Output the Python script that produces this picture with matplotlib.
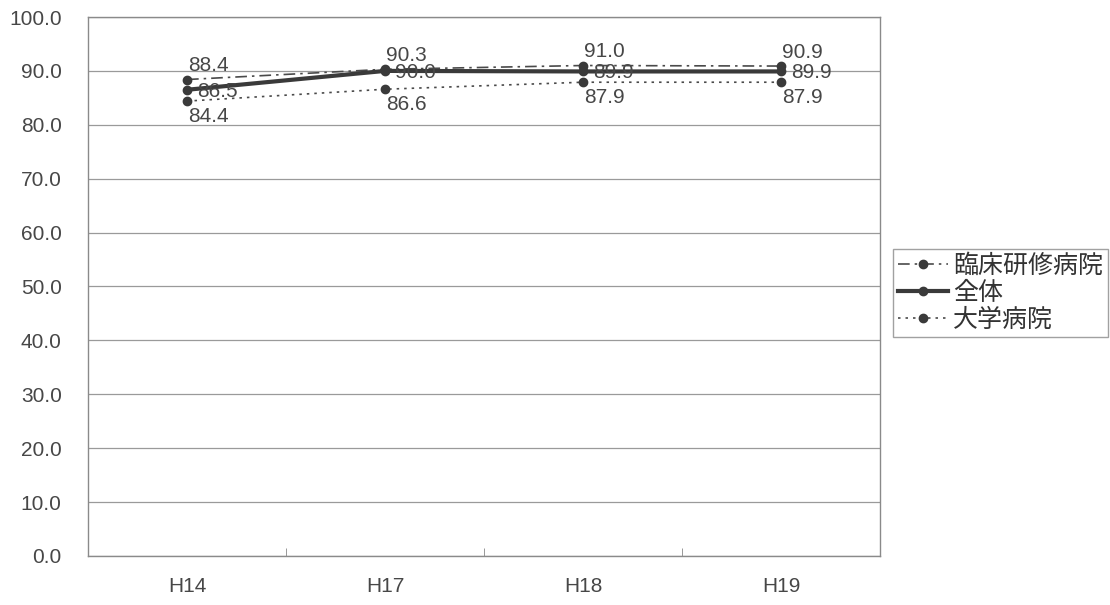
import matplotlib
matplotlib.use("Agg")
import matplotlib.pyplot as plt

years = ["H14", "H17", "H18", "H19"]
rinsho = [88.4, 90.3, 91.0, 90.9]
zentai = [86.5, 90.0, 89.9, 89.9]
daigaku = [84.4, 86.6, 87.9, 87.9]

FONT = ["Liberation Sans", "Noto Sans CJK JP", "DejaVu Sans"]
plt.rcParams["font.family"] = FONT
TXT = "#474747"
LINE = "#3a3a3a"

fig = plt.figure(figsize=(11.1, 6.05), dpi=100)
ax = fig.add_axes([0.0793, 0.081, 0.7135, 0.8909])

x = list(range(len(years)))
ax.plot(x, rinsho, color="#4a4a4a", lw=1.2, ls=(0, (7, 3, 1.5, 3)),
        marker="o", ms=6, mfc=LINE, mec=LINE, label="臨床研修病院", zorder=3)
ax.plot(x, zentai, color=LINE, lw=3, ls="-",
        marker="o", ms=6, mfc=LINE, mec=LINE, label="全体", zorder=4)
ax.plot(x, daigaku, color="#4a4a4a", lw=1.2, ls=(0, (1.5, 3)),
        marker="o", ms=6, mfc=LINE, mec=LINE, label="大学病院", zorder=3)

lab = dict(fontsize=15, color=TXT, zorder=5)
for i, v in enumerate(rinsho):
    ax.annotate(f"{v:.1f}", (i, v), xytext=(1, 3), textcoords="offset points",
                ha="left", va="bottom", **lab)
for i, v in enumerate(zentai):
    ax.annotate(f"{v:.1f}", (i, v), xytext=(7, -1), textcoords="offset points",
                ha="left", va="center", **lab)
for i, v in enumerate(daigaku):
    ax.annotate(f"{v:.1f}", (i, v), xytext=(1, -4), textcoords="offset points",
                ha="left", va="top", **lab)

ax.set_xlim(-0.5, len(years) - 0.5)
ax.set_ylim(0, 100)
ax.set_yticks(range(0, 101, 10))
ax.set_yticklabels([f"{t:.1f}" for t in range(0, 101, 10)])
ax.set_xticks(x)
ax.set_xticklabels(years)
ax.set_xticks([i + 0.5 for i in x[:-1]], minor=True)
ax.tick_params(axis="x", which="major", length=0, pad=15, labelsize=15, labelcolor=TXT)
ax.tick_params(axis="x", which="minor", length=6, color="#888888", direction="in")
ax.tick_params(axis="y", length=0, pad=19, labelsize=15, labelcolor=TXT)
ax.grid(axis="y", color="#9a9a9a", lw=0.9)
for s in ax.spines.values():
    s.set_color("#8a8a8a")
    s.set_linewidth(1.0)

leg = fig.legend(loc="center left", bbox_to_anchor=(0.8045, 0.516),
                 prop={"family": FONT, "size": 18}, frameon=True, fancybox=False,
                 handlelength=2.0, handletextpad=0.2, labelspacing=0.12,
                 borderpad=0.2, borderaxespad=0, labelcolor="#333333")
leg.get_frame().set_edgecolor("#8a8a8a")
leg.get_frame().set_linewidth(1.0)

fig.savefig("out.png", dpi=100)
